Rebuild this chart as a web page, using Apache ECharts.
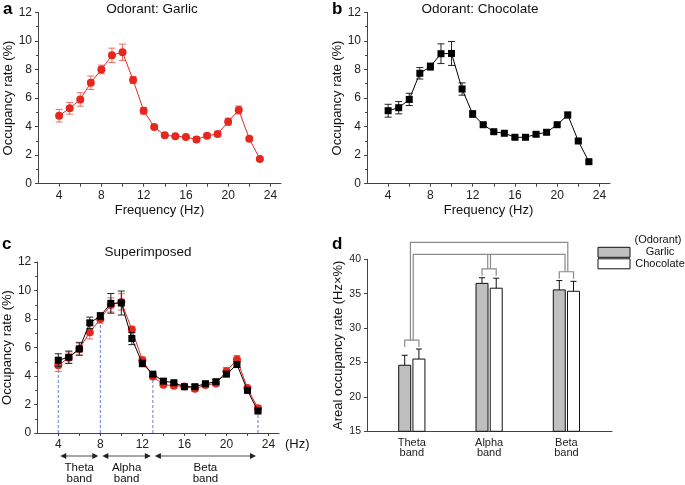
<!DOCTYPE html>
<html>
<head>
<meta charset="utf-8">
<script src="https://cdn.jsdelivr.net/npm/echarts@6/dist/echarts.min.js"></script>
<style>
    html, body { margin: 0; padding: 0; background: #fff; }
    #chart { width: 685px; height: 485px; }
</style>
</head>
<body>
<div id="chart"></div>
<script>
    // frequency bins (Hz) and occupancy rate (%) per odorant
    var freq = [4, 5, 6, 7, 8, 9, 10, 11, 12, 13, 14, 15, 16, 17, 18, 19, 20, 21, 22, 23];
    var garlic = [4.76, 5.28, 5.9, 7.07, 8.0, 8.99, 9.2, 7.26, 5.11, 3.97, 3.39, 3.32, 3.27, 3.1, 3.36, 3.48, 4.34, 5.16, 3.15, 1.73];
    var garlicErr = [0.44, 0.41, 0.47, 0.47, 0.3, 0.5, 0.57, 0.23, 0.23, 0.12, 0.1, 0.1, 0.1, 0.18, 0.15, 0.15, 0.25, 0.28, 0.1, 0.1];
    var chocolate = [5.11, 5.32, 5.9, 7.73, 8.2, 9.1, 9.12, 6.63, 4.88, 4.13, 3.64, 3.53, 3.25, 3.25, 3.46, 3.6, 4.13, 4.81, 2.99, 1.54];
    var chocolateErr = [0.45, 0.43, 0.43, 0.4, 0.25, 0.69, 0.84, 0.43, 0.23, 0.1, 0.1, 0.1, 0.1, 0.15, 0.15, 0.15, 0.1, 0.2, 0.1, 0.1];
    var freqLabels = [4, 8, 12, 16, 20, 24];
    var freqTicks = [4, 6, 8, 10, 12, 14, 16, 18, 20, 22, 24];

    // band limits (Hz)
    var bandEdges = [4, 8, 13, 23];
    var bandNames = ['Theta\nband', 'Alpha\nband', 'Beta\nband'];

    // areal occupancy rate (Hz x %) per band
    var areaGarlic = [24.6, 36.5, 35.55];
    var areaGarlicErr = [1.45, 0.82, 1.36];
    var areaChocolate = [25.5, 35.8, 35.35];
    var areaChocolateErr = [1.46, 1.45, 1.45];
    var areaMin = 15;

    var FONT = 'Liberation Sans, Arial, sans-serif';
    var RED = '#e4281f';
    var RED_ERR = '#ee6a62';
    var AXIS = '#444';
    var BRACKET = '#8a8a8a';
    var barOff = 0.092;   // half distance between paired bars (axis units)

    function pairs(vals) {
        return freq.map(function (f, i) { return [f, vals[i]]; });
    }

    function errorBars(ax, vals, errs, color, z) {
        return {
            type: 'custom', xAxisIndex: ax, yAxisIndex: ax, z: z, silent: true,
            data: freq.map(function (f, i) { return [f, vals[i] - errs[i], vals[i] + errs[i]]; }),
            renderItem: function (params, api) {
                var lo = api.coord([api.value(0), api.value(1)]);
                var hi = api.coord([api.value(0), api.value(2)]);
                var w = 3.5, st = { stroke: color, lineWidth: 1 };
                return {
                    type: 'group', children: [
                        { type: 'line', shape: { x1: lo[0], y1: lo[1], x2: hi[0], y2: hi[1] }, style: st },
                        { type: 'line', shape: { x1: lo[0] - w, y1: lo[1], x2: lo[0] + w, y2: lo[1] }, style: st },
                        { type: 'line', shape: { x1: hi[0] - w, y1: hi[1], x2: hi[0] + w, y2: hi[1] }, style: st }
                    ]
                };
            }
        };
    }

    function lineSeries(ax, vals, color, symbol, size, z) {
        return {
            type: 'line', xAxisIndex: ax, yAxisIndex: ax, z: z, silent: true,
            data: pairs(vals), symbol: symbol, symbolSize: size,
            itemStyle: { color: color }, lineStyle: { color: color, width: 1 }
        };
    }

    function freqAxis(i, name) {
        return {
            type: 'value', gridIndex: i, min: 2, max: 25,
            name: name, nameLocation: 'middle', nameGap: 20,
            nameTextStyle: { fontSize: 13, color: '#111' },
            axisLine: { onZero: false, lineStyle: { color: AXIS, width: 1 } },
            axisTick: { show: true, length: 3, customValues: freqTicks, lineStyle: { color: AXIS } },
            axisLabel: { customValues: freqLabels, fontSize: 12, color: '#222', margin: 6 },
            splitLine: { show: false }
        };
    }

    function rateAxis(i) {
        return {
            type: 'value', gridIndex: i, min: 0, max: 12, interval: 2,
            name: 'Occupancy rate (%)', nameLocation: 'middle', nameGap: 19,
            nameTextStyle: { fontSize: 13, color: '#111' },
            axisLine: { show: true, onZero: false, lineStyle: { color: AXIS, width: 1 } },
            axisTick: { show: true, length: 3, lineStyle: { color: AXIS } },
            minorTick: { show: true, splitNumber: 2, length: 2, lineStyle: { color: AXIS } },
            axisLabel: { fontSize: 12, color: '#222', margin: 6 },
            splitLine: { show: false }
        };
    }

    // dashed band boundaries in panel c
    var boundarySeries = {
        type: 'custom', xAxisIndex: 2, yAxisIndex: 2, z: 0, silent: true,
        data: bandEdges.map(function (x) { return [x, garlic[freq.indexOf(x)]]; }),
        renderItem: function (params, api) {
            var a = api.coord([api.value(0), 0]);
            var b = api.coord([api.value(0), api.value(1)]);
            return {
                type: 'line', shape: { x1: a[0], y1: a[1], x2: b[0], y2: b[1] },
                style: { stroke: '#5b7fd9', lineWidth: 1, lineDash: [3, 2] }
            };
        }
    };

    // double arrows and band names under panel c
    var bandSeries = {
        type: 'custom', xAxisIndex: 2, yAxisIndex: 2, z: 5, silent: true,
        data: bandNames.map(function (n, i) { return [bandEdges[i], bandEdges[i + 1]]; }),
        renderItem: function (params, api) {
            var a = api.coord([api.value(0), 0]);
            var b = api.coord([api.value(1), 0]);
            var y = a[1] + 23, x1 = a[0] + 2, x2 = b[0] - 2;
            return {
                type: 'group', children: [
                    { type: 'line', shape: { x1: x1 + 4, y1: y, x2: x2 - 4, y2: y }, style: { stroke: '#888', lineWidth: 1.5 } },
                    { type: 'polygon', shape: { points: [[x1, y], [x1 + 6, y - 3], [x1 + 6, y + 3]] }, style: { fill: '#222' } },
                    { type: 'polygon', shape: { points: [[x2, y], [x2 - 6, y - 3], [x2 - 6, y + 3]] }, style: { fill: '#222' } },
                    {
                        type: 'text', x: (a[0] + b[0]) / 2, y: a[1] + 30,
                        style: {
                            text: bandNames[params.dataIndex], textAlign: 'center', textVerticalAlign: 'top',
                            font: '11.5px ' + FONT, lineHeight: 10.5, fill: '#111'
                        }
                    }
                ]
            };
        }
    };

    function areaBars(name, vals, errs, off, fill) {
        return {
            type: 'custom', name: name, xAxisIndex: 3, yAxisIndex: 3, z: 2, silent: true,
            itemStyle: { color: fill, borderColor: '#111', borderWidth: 1 },
            data: vals.map(function (v, i) { return [i + 1, v, v + errs[i]]; }),
            renderItem: function (params, api) {
                var x = api.value(0) + off;
                var top = api.coord([x, api.value(1)]);
                var base = api.coord([x, areaMin]);
                var eb = api.coord([x, api.value(2)]);
                var st = { stroke: '#111', lineWidth: 1 };
                return {
                    type: 'group', children: [
                        { type: 'line', shape: { x1: top[0], y1: top[1], x2: eb[0], y2: eb[1] }, style: st },
                        { type: 'line', shape: { x1: eb[0] - 3, y1: eb[1], x2: eb[0] + 3, y2: eb[1] }, style: st },
                        { type: 'rect', shape: { x: top[0] - 6, y: top[1], width: 12, height: base[1] - top[1] }, style: { fill: fill, stroke: '#111', lineWidth: 1 } }
                    ]
                };
            }
        };
    }

    // significance brackets above each band pair
    var bracketLevels = areaGarlic.map(function (v, i) {
        return Math.max(v + areaGarlicErr[i], areaChocolate[i] + areaChocolateErr[i]) + 1.28;
    });

    var pairBrackets = {
        type: 'custom', xAxisIndex: 3, yAxisIndex: 3, z: 3, silent: true,
        data: bracketLevels.map(function (l, i) { return [i + 1, l]; }),
        renderItem: function (params, api) {
            var c = api.value(0), l = api.value(1);
            var pts = [[c - barOff, l - 1], [c - barOff, l], [c + barOff, l], [c + barOff, l - 1]].map(api.coord);
            return { type: 'polyline', shape: { points: pts }, style: { stroke: BRACKET, lineWidth: 1.2, fill: null } };
        }
    };

    var groupBrackets = {
        type: 'custom', xAxisIndex: 3, yAxisIndex: 3, z: 3, silent: true,
        data: [[1, 3]],
        renderItem: function (params, api) {
            var d = 0.018, outer = 42.47, inner = 40.73;
            var st = { stroke: BRACKET, lineWidth: 1.2, fill: null };
            var lv = bracketLevels;
            function poly(p) { return { type: 'polyline', shape: { points: p.map(api.coord) }, style: st }; }
            return {
                type: 'group', children: [
                    poly([[1 - d, lv[0]], [1 - d, outer], [3 + d, outer], [3 + d, lv[2]]]),
                    poly([[1 + d, lv[0]], [1 + d, inner], [3 - d, inner], [3 - d, lv[2]]]),
                    poly([[2 - d, lv[1]], [2 - d, inner]]),
                    poly([[2 + d, lv[1]], [2 + d, inner]])
                ]
            };
        }
    };

    var option = {
        animation: false,
        textStyle: { fontFamily: FONT },
        grid: [
            { left: 38, top: 12.3, width: 243, height: 171.4 },
            { left: 367, top: 12.3, width: 243, height: 171.4 },
            { left: 36, top: 262, width: 243, height: 171 },
            { left: 367, top: 259.3, width: 245, height: 172 }
        ],
        xAxis: [
            freqAxis(0, 'Frequency (Hz)'),
            freqAxis(1, 'Frequency (Hz)'),
            (function () {
                var ax = freqAxis(2, '(Hz)');
                ax.nameLocation = 'end';
                ax.nameGap = 6;
                ax.nameTextStyle = { fontSize: 13, color: '#111', verticalAlign: 'top', padding: [5, 0, 0, 0] };
                return ax;
            })(),
            {
                type: 'value', gridIndex: 3, min: 0.42, max: 3.59,
                axisLine: { onZero: false, lineStyle: { color: AXIS, width: 1 } },
                axisTick: { show: false },
                axisLabel: {
                    customValues: [1, 2, 3], fontSize: 11, color: '#222', margin: 6, lineHeight: 10.5,
                    formatter: function (v) { return bandNames[v - 1]; }
                },
                splitLine: { show: false }
            }
        ],
        yAxis: [
            rateAxis(0),
            rateAxis(1),
            rateAxis(2),
            {
                type: 'value', gridIndex: 3, min: areaMin, max: 40, interval: 5,
                name: 'Areal occupancy rate (Hz×%)', nameLocation: 'middle', nameGap: 22,
                nameTextStyle: { fontSize: 13, color: '#111' },
                axisLine: { show: true, onZero: false, lineStyle: { color: AXIS, width: 1 } },
                axisTick: { show: true, length: 3, lineStyle: { color: AXIS } },
                axisLabel: { fontSize: 10.5, color: '#222', margin: 6 },
                splitLine: { show: false }
            }
        ],
        legend: {
            orient: 'vertical', left: 597.5, top: 246.8, padding: 0,
            itemWidth: 32, itemHeight: 10, itemGap: 0.5, selectedMode: false,
            data: [
                { name: 'Garlic', icon: 'rect', itemStyle: { color: '#bfbfbf', borderColor: '#111', borderWidth: 1 } },
                { name: 'Chocolate', icon: 'rect', itemStyle: { color: '#fff', borderColor: '#111', borderWidth: 1 } }
            ],
            formatter: function (n) { return '{t|' + n + '}'; },
            textStyle: { rich: { t: { width: 50, align: 'center', fontSize: 11, lineHeight: 13, color: '#111', fontFamily: FONT } } }
        },
        graphic: [
            { type: 'text', x: 3, y: 9, style: { text: 'a', font: 'bold 17px ' + FONT, textVerticalAlign: 'middle', fill: '#000' } },
            { type: 'text', x: 152, y: 9, style: { text: 'Odorant: Garlic', font: '13.5px ' + FONT, textAlign: 'center', textVerticalAlign: 'middle', fill: '#111' } },
            { type: 'text', x: 332, y: 9, style: { text: 'b', font: 'bold 17px ' + FONT, textVerticalAlign: 'middle', fill: '#000' } },
            { type: 'text', x: 480, y: 9, style: { text: 'Odorant: Chocolate', font: '13.5px ' + FONT, textAlign: 'center', textVerticalAlign: 'middle', fill: '#111' } },
            { type: 'text', x: 2, y: 244, style: { text: 'c', font: 'bold 17px ' + FONT, textVerticalAlign: 'middle', fill: '#000' } },
            { type: 'text', x: 148, y: 252.7, style: { text: 'Superimposed', font: '13.5px ' + FONT, textAlign: 'center', textVerticalAlign: 'middle', fill: '#111' } },
            { type: 'text', x: 332, y: 244, style: { text: 'd', font: 'bold 17px ' + FONT, textVerticalAlign: 'middle', fill: '#000' } },
            { type: 'text', x: 658, y: 240, style: { text: '(Odorant)', font: '11px ' + FONT, textAlign: 'center', textVerticalAlign: 'middle', fill: '#111' } }
        ],
        series: [
            // a: garlic
            errorBars(0, garlic, garlicErr, RED_ERR, 1),
            lineSeries(0, garlic, RED, 'circle', 8, 2),
            // b: chocolate
            errorBars(1, chocolate, chocolateErr, '#222', 1),
            lineSeries(1, chocolate, '#000', 'rect', 7, 2),
            // c: superimposed
            boundarySeries,
            errorBars(2, garlic, garlicErr, RED_ERR, 1),
            lineSeries(2, garlic, RED, 'circle', 8, 2),
            errorBars(2, chocolate, chocolateErr, '#222', 3),
            lineSeries(2, chocolate, '#000', 'rect', 7, 4),
            bandSeries,
            // d: areal occupancy per band
            areaBars('Garlic', areaGarlic, areaGarlicErr, -barOff, '#bfbfbf'),
            areaBars('Chocolate', areaChocolate, areaChocolateErr, barOff, '#fff'),
            pairBrackets,
            groupBrackets
        ]
    };

    var chart = echarts.init(document.getElementById('chart'));
    chart.setOption(option);
</script>
</body>
</html>
